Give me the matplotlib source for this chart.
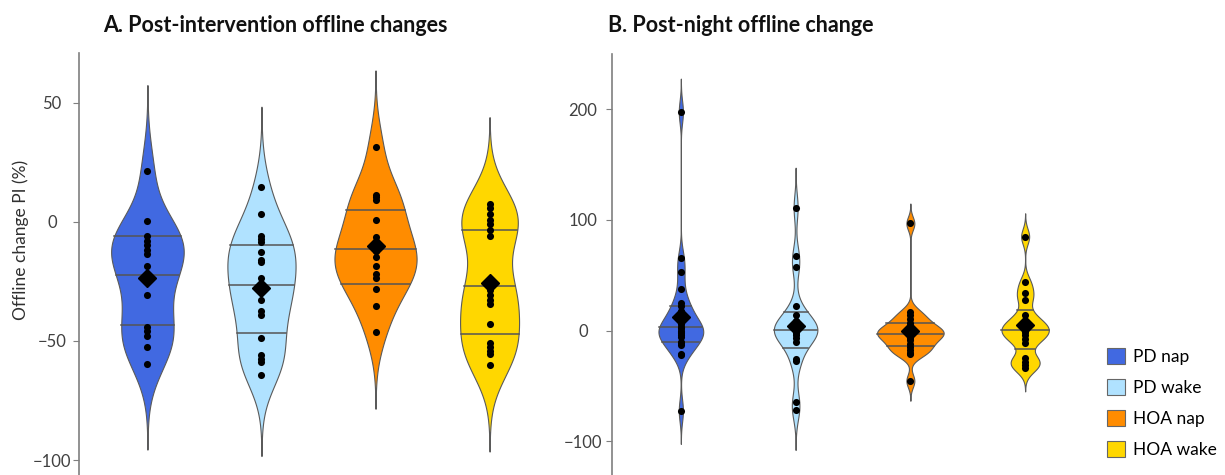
import numpy as np
import matplotlib.pyplot as plt
from matplotlib.patches import Patch

plt.rcParams['font.family'] = ['Lato', 'DejaVu Sans']

groups = ['PD nap', 'PD wake', 'HOA nap', 'HOA wake']
colors = ['#4169E1', '#B0E2FF', '#FF8C00', '#FFD700']

# A. post-intervention offline change (%)
a_pd_nap = [21.6, 0.5, -5.9, -7.9, -9.8, -11.8, -13.4, -18.5, -25, -30.8,
            -44, -45.7, -47.9, -52.4, -59.7]
a_pd_wake = [14.5, 3.5, -5.8, -7.3, -8.6, -12.4, -15.8, -17, -23.5, -26.5,
             -29.4, -32.8, -37.5, -39, -48.6, -56, -57.5, -59, -64.4]
a_hoa_nap = [31.6, 11.5, 10.5, 9.2, 0.8, -6.2, -10.5, -12, -14.6, -18.5,
             -22, -23.5, -28, -35.5, -46.4]
a_hoa_wake = [7.6, 5.8, 3.5, 1, -1, -3.3, -5.9, -25, -28.6, -30.7, -32.6,
              -34.4, -42.8, -50.7, -52.5, -54.3, -55.4, -60]

# B. post-night offline change (%)
b_pd_nap = [197.7, 65.3, 53.2, 37.5, 24.6, 22, 18, 12, 8.1, 6, 3, 2.1, 0, -1,
            -2, -4, -6, -10, -11.5, -13, -21.4, -22, -72.5]
b_pd_wake = [111.2, 67.5, 57.6, 22, 13.8, 9, 5, 3, 2, 1, 0, -1, -2, -4.2, -7,
             -10.2, -25.3, -27.7, -64.5, -72]
b_hoa_nap = [96.8, 17, 14, 10, 7, 4, 1, 0, -1, -2, -3, -5, -7, -9, -12, -15,
             -18, -20, -21.4, -45.5]
b_hoa_wake = [85, 43.6, 34.3, 27.6, 14, 9, 5, 3, 0, -1, -4, -8, -11, -25, -28,
              -31, -34]

# kernel bandwidths for panel B (panel A uses the nrd0 rule)
b_bandwidth = [10, 12, 6, 7]


def nrd0(v):
    q1, q3 = np.percentile(v, [25, 75])
    return 0.9 * min(v.std(ddof=1), (q3 - q1) / 1.34) * len(v) ** -0.2


def kde(v, bw=None):
    v = np.asarray(v, float)
    if bw is None:
        bw = nrd0(v)
    y = np.linspace(v.min() - 3 * bw, v.max() + 3 * bw, 512)
    d = np.exp(-0.5 * ((y[:, None] - v) / bw) ** 2).sum(1) / (len(v) * bw * np.sqrt(2 * np.pi))
    return y, d


def draw_panel(ax, data, max_half, label_pad, bws=None):
    if bws is None:
        bws = [None] * len(data)
    stats = [kde(v, b) for v, b in zip(data, bws)]
    dmax = max(d.max() for _, d in stats)
    for i, (v, (y, d), c) in enumerate(zip(data, stats, colors)):
        x = i + 1
        w = d / dmax * max_half
        ax.fill_betweenx(y, x - w, x + w, facecolor=c, edgecolor='#5a5a5a', lw=0.8, zorder=2)
        cdf = np.cumsum(d) / d.sum()
        for q in np.interp([0.25, 0.5, 0.75], cdf, y):
            hw = np.interp(q, y, w)
            ax.plot([x - hw, x + hw], [q, q], color='#555555', lw=1.1, zorder=3)
        ax.scatter(np.full(len(v), x), v, s=26, color='black', lw=0, zorder=4)
        ax.plot(x, np.mean(v), marker='D', ms=9, color='black', zorder=5)

    ax.set_xlim(0.4, 4.6)
    ax.set_xticks([])
    for s in ['top', 'right', 'bottom']:
        ax.spines[s].set_visible(False)
    ax.spines['left'].set_color('#7f7f7f')
    ax.spines['left'].set_linewidth(1.2)
    ax.tick_params(axis='y', length=4, color='#7f7f7f', labelsize=12,
                   labelcolor='#404040', pad=label_pad)


fig = plt.figure(figsize=(12.25, 4.75), dpi=100)

ax1 = fig.add_axes([79 / 1225, 0, 479 / 1225, 422 / 475])
draw_panel(ax1, [a_pd_nap, a_pd_wake, a_hoa_nap, a_hoa_wake], 0.36, 15.5)
ax1.set_ylim(-106.3, 71)
ax1.set_yticks([-100, -50, 0, 50])
ax1.set_ylabel('Offline change PI (%)', fontsize=12.5, color='#303030')
ax1.yaxis.set_label_coords(-50 / 479, (475 - 240) / 422)

ax2 = fig.add_axes([612 / 1225, 0, 482 / 1225, 421 / 475])
draw_panel(ax2, [b_pd_nap, b_pd_wake, b_hoa_nap, b_hoa_wake], 0.29, 17, b_bandwidth)
ax2.set_ylim(-130.6, 250)
ax2.set_yticks([-100, 0, 100, 200])

for ax in (ax1, ax2):
    for lbl in ax.get_yticklabels():
        lbl.set_horizontalalignment('center')

fig.text(103 / 1225, 1 - 25 / 475, 'A. Post-intervention offline changes',
         fontsize=15.5, fontweight='bold', va='center', color='#111111')
fig.text(608 / 1225, 1 - 25 / 475, 'B. Post-night offline change',
         fontsize=15.5, fontweight='bold', va='center', color='#111111')

handles = [Patch(facecolor=c, edgecolor='#666666', lw=0.8) for c in colors]
fig.legend(handles, groups, loc='upper left',
           bbox_to_anchor=(1107 / 1225, 1 - 348 / 475), frameon=False,
           fontsize=12.5, handlelength=1.05, handleheight=1.05,
           handletextpad=0.45, labelspacing=0.8, borderpad=0, borderaxespad=0)

fig.savefig('out.png', dpi=100)
